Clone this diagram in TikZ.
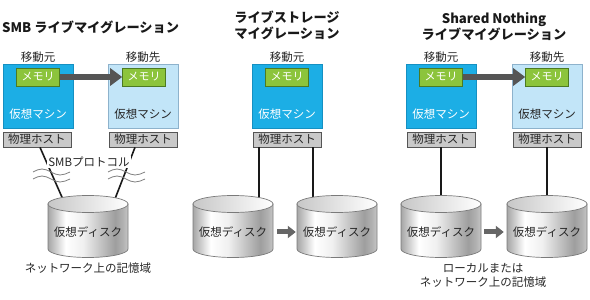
\documentclass[tikz,border=0pt]{standalone}
\usepackage{fontspec}
\setmainfont{Noto Sans CJK JP}
\usetikzlibrary{arrows.meta,calc}
\definecolor{vmblue}{HTML}{1CAEE5}
\definecolor{vmblueline}{HTML}{1590C2}
\definecolor{vmlight}{HTML}{C2E5F8}
\definecolor{vmlightline}{HTML}{8DB2CC}
\definecolor{memgreen}{HTML}{8CC43C}
\definecolor{memline}{HTML}{4C7A22}
\definecolor{hostgray}{HTML}{C9C9C9}
\definecolor{hostline}{HTML}{555555}
\definecolor{diskline}{HTML}{7A7A7A}
\definecolor{inkgray}{HTML}{555555}
\pgfdeclarehorizontalshading{diskshade}{100bp}{color(0bp)=(black!35); color(25bp)=(black!35); color(36bp)=(white); color(47bp)=(black!6); color(67bp)=(black!38); color(72bp)=(black!30); color(75bp)=(black!22); color(100bp)=(black!22)}
% disk: name, x of centre
\newcommand{\vdisk}[2]{%
  \shade[diskbody] (#2-40,96) -- (#2-40,51) arc[start angle=180,end angle=360,x radius=40,y radius=8.5] -- (#2+40,96) -- cycle;
  \shade[disktop] (#2,96) ellipse[x radius=40,y radius=8.5];
  \node[disklabel] (#1) at (#2,68) {仮想ディスク};
}

\begin{document}
\begin{tikzpicture}[x=1pt,y=1pt,
  vmsrc/.style={draw=vmblueline,fill=vmblue,line width=0.6pt,minimum width=70pt,minimum height=64pt,inner sep=0pt},
  vmdst/.style={draw=vmlightline,fill=vmlight,line width=0.6pt,minimum width=70pt,minimum height=64pt,inner sep=0pt},
  mem/.style={draw=memline,fill=memgreen,line width=0.6pt,minimum width=43pt,minimum height=18pt,inner sep=0pt,text=white,font=\fontsize{11}{13}\selectfont},
  host/.style={draw=hostline,fill=hostgray,line width=0.7pt,minimum width=68pt,minimum height=15pt,inner sep=0pt,text=black!85,font=\fontsize{11.5}{13}\selectfont},
  txt/.style={inner sep=0pt,text=black!85,font=\fontsize{11.5}{14}\selectfont},
  title/.style={inner sep=0pt,text=black!90,font=\bfseries\fontsize{13.2}{16}\selectfont},
  link/.style={draw=black!90,line width=1.6pt},
  wave/.style={draw=black!50,line width=0.8pt},
  memarrow/.style={draw=inkgray,line width=6.5pt,-{Triangle[length=12pt,width=17pt]}},
  diskarrow/.style={draw=black!60,line width=5pt,-{Triangle[length=8pt,width=12pt]}},
  diskbody/.style={shading=diskshade,draw=diskline,line width=0.7pt},
  disktop/.style={left color=black!22,right color=white,draw=diskline,line width=0.7pt},
  disklabel/.style={txt,minimum width=80pt}]
\useasboundingbox (0,0) rectangle (590,300);

% SMB live migration
\node[title,anchor=west] (smbtitle) at (2,273) {SMB ライブマイグレーション};
\node[txt] (smbfrom) at (38,243) {移動元};
\node[txt] (smbto) at (143,243) {移動先};
\node[vmsrc] (smbsrc) at (38,204) {};
\node[vmdst] (smbdst) at (143,204) {};
\node[mem] (smbsrcmem) at (38,223) {メモリ};
\node[mem] (smbdstmem) at (144,223) {メモリ};
\node[txt,text=white] (smbsrcvm) at (38,186) {仮想マシン};
\node[txt] (smbdstvm) at (143,186) {仮想マシン};
\node[host] (smbsrchost) at (37,160.5) {物理ホスト};
\node[host] (smbdsthost) at (143,160.5) {物理ホスト};
\coordinate (smbdisk-top) at (88,96);
\draw[link] ($(smbsrchost.south)+(3,0)$) -- ($(smbdisk-top)+(-23,0)$);
\draw[link] ($(smbdsthost.south)+(-8,0)$) -- ($(smbdisk-top)+(25,0)$);
\draw[wave] (33,128) sin (42,131) cos (51,128) sin (60,125) cos (70,128);
\draw[wave] (33,121) sin (42,124) cos (51,121) sin (60,118) cos (70,121);
\draw[wave] (108,128) sin (117,131) cos (126,128) sin (135,125) cos (145,128);
\draw[wave] (108,121) sin (117,124) cos (126,121) sin (135,118) cos (145,121);
\node[txt,fill=white,inner sep=1pt] (smbproto) at (89,138) {SMBプロトコル};
\vdisk{smbdisk}{88}
\node[txt] (smbstore) at (88,32) {ネットワーク上の記憶域};
\draw[memarrow] (smbsrcmem) -- (smbdstmem);

% live storage migration
\node[title,align=center] (lstitle) at (287,275) {ライブストレージ\\マイグレーション};
\node[txt] (lsfrom) at (287,243) {移動元};
\node[vmsrc] (lssrc) at (287,204) {};
\node[mem] (lsmem) at (287,223) {メモリ};
\node[txt,text=white] (lsvm) at (287,186) {仮想マシン};
\node[host] (lshost) at (287,160.5) {物理ホスト};
\coordinate (lsdiskA-top) at (233,96);
\coordinate (lsdiskB-top) at (337,96);
\draw[link] ($(lshost.south)+(-28,0)$) -- ($(lsdiskA-top)+(26,0)$);
\draw[link] ($(lshost.south)+(26,0)$) -- ($(lsdiskB-top)+(-24,0)$);
\vdisk{lsdiskA}{233}
\vdisk{lsdiskB}{337}
\draw[diskarrow] ([xshift=4pt]lsdiskA.east) -- ([xshift=-1pt]lsdiskB.west);

% shared nothing live migration
\node[title,align=center] (sntitle) at (494,273.5) {Shared Nothing\\ライブマイグレーション};
\node[txt] (snfrom) at (441,243) {移動元};
\node[txt] (snto) at (547,243) {移動先};
\node[vmsrc] (snsrc) at (441,204) {};
\node[vmdst] (sndst) at (547,204) {};
\node[mem] (snsrcmem) at (441,223) {メモリ};
\node[mem] (sndstmem) at (547,223) {メモリ};
\node[txt,text=white] (snsrcvm) at (441,186) {仮想マシン};
\node[txt] (sndstvm) at (547,186) {仮想マシン};
\node[host] (snsrchost) at (441,160.5) {物理ホスト};
\node[host] (sndsthost) at (547,160.5) {物理ホスト};
\coordinate (sndiskA-top) at (441,96);
\coordinate (sndiskB-top) at (547,96);
\draw[link] (snsrchost.south) -- (sndiskA-top);
\draw[link] (sndsthost.south) -- (sndiskB-top);
\vdisk{sndiskA}{441}
\vdisk{sndiskB}{547}
\draw[diskarrow] ([xshift=3pt]sndiskA.east) -- ([xshift=-3pt]sndiskB.west);
\draw[memarrow] (snsrcmem) -- (sndstmem);
\node[txt,align=center] (snstore) at (483,25) {ローカルまたは\\ネットワーク上の記憶域};
\end{tikzpicture}
\end{document}
